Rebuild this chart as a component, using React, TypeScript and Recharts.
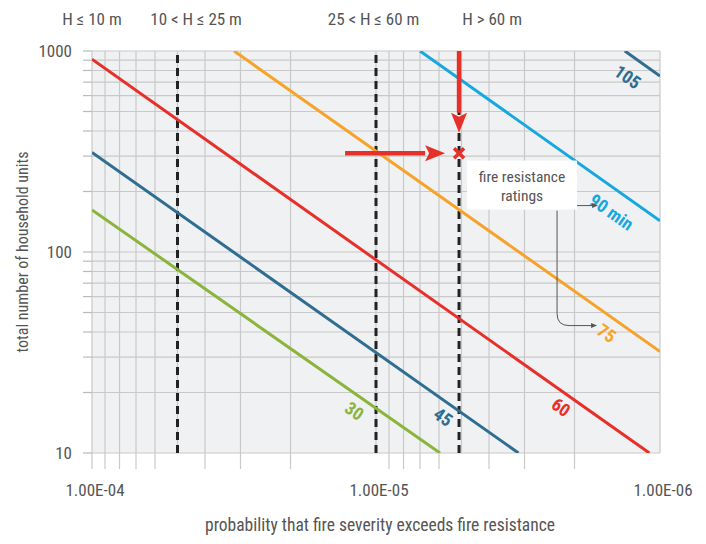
import { LineChart, Line, XAxis, YAxis, CartesianGrid, ReferenceLine, ReferenceDot } from 'recharts'

/* ---------- data ---------- */
const xTicks = [
  1e-4, 9e-5, 8e-5, 7e-5, 6e-5, 5e-5, 4e-5, 3e-5, 2e-5, 1e-5, 9e-6, 8e-6, 7e-6, 6e-6, 5e-6, 4e-6, 3e-6, 2e-6, 1e-6,
]
const xLabelValues = [1e-4, 1e-5, 1e-6]
const xLabelText = ['1.00E-04', '1.00E-05', '1.00E-06']
const xShortTicks = [5e-5, 1e-5, 5e-6, 1e-6] // no tick below the axis for these

const yTicks = [10, 20, 30, 40, 50, 60, 70, 80, 90, 100, 200, 300, 400, 500, 600, 700, 800, 900, 1000]
const yLabelValues = [10, 100, 1000]

// fire resistance lines (end points)
const rating30 = [{ p: 1e-4, n: 162 }, { p: 5.95e-6, n: 10 }]
const rating45 = [{ p: 1e-4, n: 313 }, { p: 3.15e-6, n: 10 }]
const rating60 = [{ p: 1e-4, n: 910 }, { p: 1.09e-6, n: 10 }]
const rating75 = [{ p: 3.16e-5, n: 1000 }, { p: 1e-6, n: 32 }]
const rating90 = [{ p: 7.0e-6, n: 1000 }, { p: 1e-6, n: 143 }]
const rating105 = [{ p: 1.33e-6, n: 1000 }, { p: 1e-6, n: 750 }]

// rating label anchors
const ratingLabels = ['30', '45', '60', '75', '90 min', '105']
const ratingLabelP = [1.19e-5, 5.8e-6, 2.23e-6, 1.54e-6, 1.48e-6, 1.3e-6]
const ratingLabelN = [16.2, 15.1, 16.9, 39.5, 158, 743]

// building height bands
const heightBandLimits = [5e-5, 1e-5, 5.1e-6]
const heightBandText = ['H ≤ 10 m', '10 < H ≤ 25 m', '25 < H ≤ 60 m', 'H > 60 m']
const heightBandTextP = [1e-4, 4.3e-5, 1.02e-5, 3.9e-6]

// worked example
const exampleP = 5.1e-6
const exampleN = 310
const arrowDown = [{ x: 5.1e-6, y: 1000 }, { x: 5.1e-6, y: 392 }]
const arrowRight = [{ x: 1.285e-5, y: 310 }, { x: 5.71e-6, y: 310 }]
const noteP = 3.06e-6
const noteN = 214

/* ---------- styles ---------- */
const FONT = "'Liberation Sans Narrow', 'Roboto Condensed', Roboto, sans-serif"
const TEXT = '#555'
const GRID = '#c9c9c9'
const RED = '#e8302a'
const ORANGE = '#f6a32b'
const CYAN = '#17a8e0'
const STEEL = '#2f6d91'
const GREEN = '#8bb43c'
const labelColors = [GREEN, STEEL, RED, ORANGE, CYAN, STEEL]

const same = (a: number, b: number) => Math.abs(a / b - 1) < 1e-6

const XTick = (props: any) => {
  const { x, y, payload } = props
  const v = payload.value
  const li = xLabelValues.findIndex((l) => same(v, l))
  const long = !xShortTicks.some((s) => same(v, s))
  return (
    <g>
      {long && <line x1={x} x2={x} y1={y} y2={y + 16} stroke={GRID} strokeWidth={1.2} />}
      {li >= 0 && (
        <text x={x + 3} y={y + 43} textAnchor="middle" fontFamily={FONT} fontSize={17} fill={TEXT}>
          {xLabelText[li]}
        </text>
      )}
    </g>
  )
}

const YTick = (props: any) => {
  const { x, y, payload } = props
  const show = yLabelValues.some((l) => same(payload.value, l))
  return (
    <g>
      <line x1={x - 9} x2={x} y1={y} y2={y} stroke="#bbb" strokeWidth={1.2} />
      {show && (
        <text x={x - 20} y={y} dy="0.36em" textAnchor="end" fontFamily={FONT} fontSize={17} fill={TEXT}>
          {payload.value}
        </text>
      )}
    </g>
  )
}

const Arrow = (props: any) => {
  const { x1, y1, x2, y2 } = props
  const dx = x2 - x1
  const dy = y2 - y1
  const len = Math.sqrt(dx * dx + dy * dy) || 1
  const ux = dx / len
  const uy = dy / len
  const head = 20
  const hw = 8
  const bx = x2 - ux * head
  const by = y2 - uy * head
  return (
    <g>
      <line x1={x1} y1={y1} x2={bx} y2={by} stroke={RED} strokeWidth={4.5} />
      <polygon
        points={`${x2},${y2} ${bx - uy * hw},${by + ux * hw} ${bx + ux * 4},${by + uy * 4} ${bx + uy * hw},${by - ux * hw}`}
        fill={RED}
      />
    </g>
  )
}

const Cross = ({ cx, cy }: any) => (
  <g stroke={RED} strokeWidth={3.5}>
    <line x1={cx - 5} y1={cy - 5} x2={cx + 5} y2={cy + 5} />
    <line x1={cx - 5} y1={cy + 5} x2={cx + 5} y2={cy - 5} />
  </g>
)

const RatingLabel = (i: number) => ({ cx, cy }: any) => (
  <text
    x={cx}
    y={cy}
    dy="0.36em"
    textAnchor="middle"
    transform={`rotate(35 ${cx} ${cy})`}
    fontFamily={FONT}
    fontWeight={700}
    fontSize={18}
    fill={labelColors[i]}
  >
    {ratingLabels[i]}
  </text>
)

const BandLabel = (i: number) => ({ cx, cy }: any) => (
  <text x={cx} y={cy - 26} textAnchor="middle" fontFamily={FONT} fontSize={17} fill={TEXT}>
    {heightBandText[i]}
  </text>
)

const Note = ({ cx, cy }: any) => (
  <g>
    <rect x={cx - 55} y={cy - 25} width={110} height={49} fill="#fff" />
    <text x={cx} y={cy - 4} textAnchor="middle" fontFamily={FONT} fontSize={15.5} fill={TEXT}>
      fire resistance
    </text>
    <text x={cx} y={cy + 15} textAnchor="middle" fontFamily={FONT} fontSize={15.5} fill={TEXT}>
      ratings
    </text>
    <g stroke="#555" strokeWidth={1} fill="none">
      <line x1={cx + 55} y1={cy + 20} x2={cx + 72} y2={cy + 20} />
      <path d={`M${cx + 35},${cy + 25} L${cx + 35},${cy + 128} Q${cx + 35},${cy + 140} ${cx + 47},${cy + 140} L${cx + 71},${cy + 140}`} />
    </g>
    <polygon points={`${cx + 76},${cy + 20} ${cx + 70},${cy + 17.5} ${cx + 70},${cy + 22.5}`} fill="#555" />
    <polygon points={`${cx + 75},${cy + 140} ${cx + 69},${cy + 137.5} ${cx + 69},${cy + 142.5}`} fill="#555" />
  </g>
)

const series = [
  { key: '30', data: rating30, color: GREEN },
  { key: '45', data: rating45, color: STEEL },
  { key: '60', data: rating60, color: RED },
  { key: '75', data: rating75, color: ORANGE },
  { key: '90', data: rating90, color: CYAN },
  { key: '105', data: rating105, color: STEEL },
]

export default function App() {
  return (
    <div style={{ position: 'absolute', left: 0, top: 0, width: 706, height: 544, background: '#fff' }}>
      <LineChart width={706} height={544} margin={{ top: 51, right: 46, bottom: 51, left: 32 }}>
        <CartesianGrid stroke={GRID} strokeWidth={1.2} fill="#f0f1f3" fillOpacity={1} />
        <XAxis
          dataKey="p"
          type="number"
          scale="log"
          domain={[1e-6, 1e-4]}
          allowDataOverflow
          reversed
          ticks={xTicks}
          interval={0}
          tick={<XTick />}
          tickLine={false}
          axisLine={false}
          tickSize={0}
          tickMargin={0}
          height={40}
        />
        <YAxis
          type="number"
          scale="log"
          domain={[10, 1000]}
          allowDataOverflow
          ticks={yTicks}
          interval={0}
          tick={<YTick />}
          tickLine={false}
          axisLine={false}
          tickSize={0}
          tickMargin={0}
          width={60}
        />
        {heightBandLimits.map((v) => (
          <ReferenceLine key={v} x={v} stroke="#222" strokeWidth={3} strokeDasharray="8 5" />
        ))}
        {series.map((s) => (
          <Line
            key={s.key}
            data={s.data}
            dataKey="n"
            stroke={s.color}
            strokeWidth={3}
            dot={false}
            activeDot={false}
            isAnimationActive={false}
          />
        ))}
        {ratingLabels.map((t, i) => (
          <ReferenceDot key={t} x={ratingLabelP[i]} y={ratingLabelN[i]} r={0} shape={RatingLabel(i)} ifOverflow="visible" />
        ))}
        {heightBandText.map((t, i) => (
          <ReferenceDot key={t} x={heightBandTextP[i]} y={1000} r={0} shape={BandLabel(i)} ifOverflow="visible" />
        ))}
        <ReferenceLine segment={arrowDown} shape={Arrow} />
        <ReferenceLine segment={arrowRight} shape={Arrow} />
        <ReferenceDot x={exampleP} y={exampleN} r={0} shape={Cross} />
        <ReferenceDot x={noteP} y={noteN} r={0} shape={Note} ifOverflow="visible" />
        <text x={22} y={252} transform="rotate(-90 22 252)" textAnchor="middle" dy="0.36em" fontFamily={FONT} fontSize={16} fill={TEXT}>
          total number of household units
        </text>
        <text x={380} y={531} textAnchor="middle" fontFamily={FONT} fontSize={17.5} fill={TEXT}>
          probability that fire severity exceeds fire resistance
        </text>
      </LineChart>
    </div>
  )
}
